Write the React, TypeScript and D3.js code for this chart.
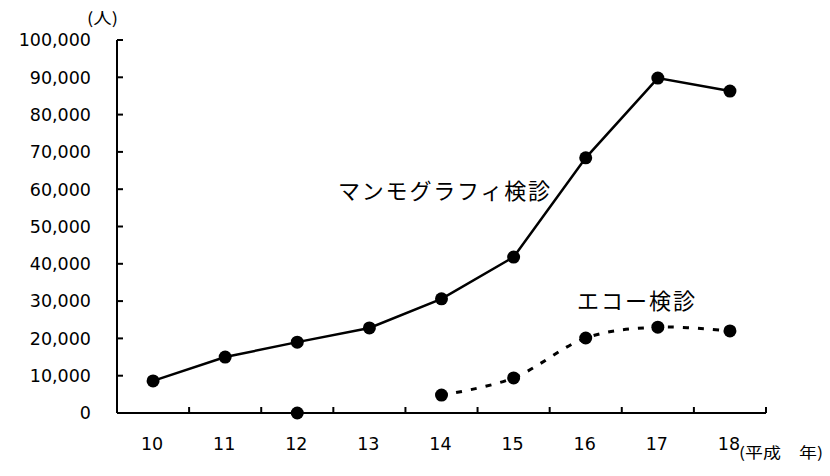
import React from "react";
import * as d3 from "d3";

const categories = ["10", "11", "12", "13", "14", "15", "16", "17", "18"];
const mammography: (number | null)[] = [8600, 15000, 19000, 22800, 30600, 41800, 68400, 89800, 86300];
const echoIsolated: (number | null)[] = [null, null, 0, null, null, null, null, null, null];
const echo: (number | null)[] = [null, null, null, null, 4800, 9400, 20100, 23000, 22000];
const yTicks = [0, 10000, 20000, 30000, 40000, 50000, 60000, 70000, 80000, 90000, 100000];

const W = 830, H = 476;
const left = 117, right = 766, top = 40, bottom = 413;

export default function App() {
  const x = d3.scaleBand<string>().domain(categories).range([left, right]);
  const y = d3.scaleLinear().domain([0, 100000]).range([bottom, top]);
  const cx = (c: string) => (x(c) as number) + x.bandwidth() / 2;
  const jpFont = "'Noto Sans CJK JP', sans-serif";
  const numFont = "'DejaVu Sans', sans-serif";

  const toPts = (arr: (number | null)[]) =>
    arr.map((v, i) => ({ c: categories[i], v })).filter((d) => d.v !== null) as { c: string; v: number }[];

  const mPts = toPts(mammography);
  const ePts = toPts(echo);
  const iPts = toPts(echoIsolated);

  const straight = d3.line<{ c: string; v: number }>().x((d) => cx(d.c)).y((d) => y(d.v));
  const smooth = d3
    .line<{ c: string; v: number }>()
    .x((d) => cx(d.c))
    .y((d) => y(d.v))
    .curve(d3.curveCatmullRom.alpha(0));

  const boundaries = categories.map((_, i) => left + x.step() * (i + 1));

  return (
    <svg width={W} height={H} style={{ position: "absolute", left: 0, top: 0, background: "#fff" }}>
      <rect x={0} y={0} width={W} height={H} fill="#fff" />
      {/* Y axis */}
      <line x1={left} y1={top} x2={left} y2={bottom} stroke="#000" strokeWidth={2} />
      {yTicks.map((t) => (
        <g key={t}>
          <line x1={left} x2={left + 6} y1={y(t)} y2={y(t)} stroke="#000" strokeWidth={2} />
          <text x={91} y={y(t)} dy="0.36em" textAnchor="end" fontFamily={numFont} fontSize={17.5} fill="#000">
            {d3.format(",")(t)}
          </text>
        </g>
      ))}
      <text x={87} y={24} fontFamily={jpFont} fontSize={16} textLength={31} lengthAdjust="spacingAndGlyphs" fill="#000">
        (人)
      </text>
      {/* X axis */}
      <line x1={left} y1={bottom} x2={right} y2={bottom} stroke="#000" strokeWidth={2} />
      {boundaries.map((b, i) => (
        <line key={i} x1={b} x2={b} y1={bottom} y2={bottom - 6} stroke="#000" strokeWidth={2} />
      ))}
      {categories.map((c) => (
        <text key={c} x={cx(c) - 1} y={450} textAnchor="middle" fontFamily={numFont} fontSize={17.5} fill="#000">
          {c}
        </text>
      ))}
      <text x={739} y={458} fontFamily={jpFont} fontSize={15} textLength={84} lengthAdjust="spacingAndGlyphs" fill="#000">
        (平成　年)
      </text>
      {/* Series */}
      <path d={straight(mPts) || ""} fill="none" stroke="#000" strokeWidth={2.5} />
      <path d={smooth(ePts) || ""} fill="none" stroke="#000" strokeWidth={3} strokeDasharray="6 9" />
      {mPts.map((d) => (
        <circle key={"m" + d.c} cx={cx(d.c)} cy={y(d.v)} r={6.5} fill="#000" />
      ))}
      {ePts.concat(iPts).map((d) => (
        <circle key={"e" + d.c} cx={cx(d.c)} cy={y(d.v)} r={6.5} fill="#000" />
      ))}
      {/* Annotations */}
      <text x={338} y={199} fontFamily={jpFont} fontSize={22} textLength={212} lengthAdjust="spacing" fill="#000">
        マンモグラフィ検診
      </text>
      <text x={577} y={309} fontFamily={jpFont} fontSize={22} textLength={118} lengthAdjust="spacing" fill="#000">
        エコー検診
      </text>
    </svg>
  );
}
